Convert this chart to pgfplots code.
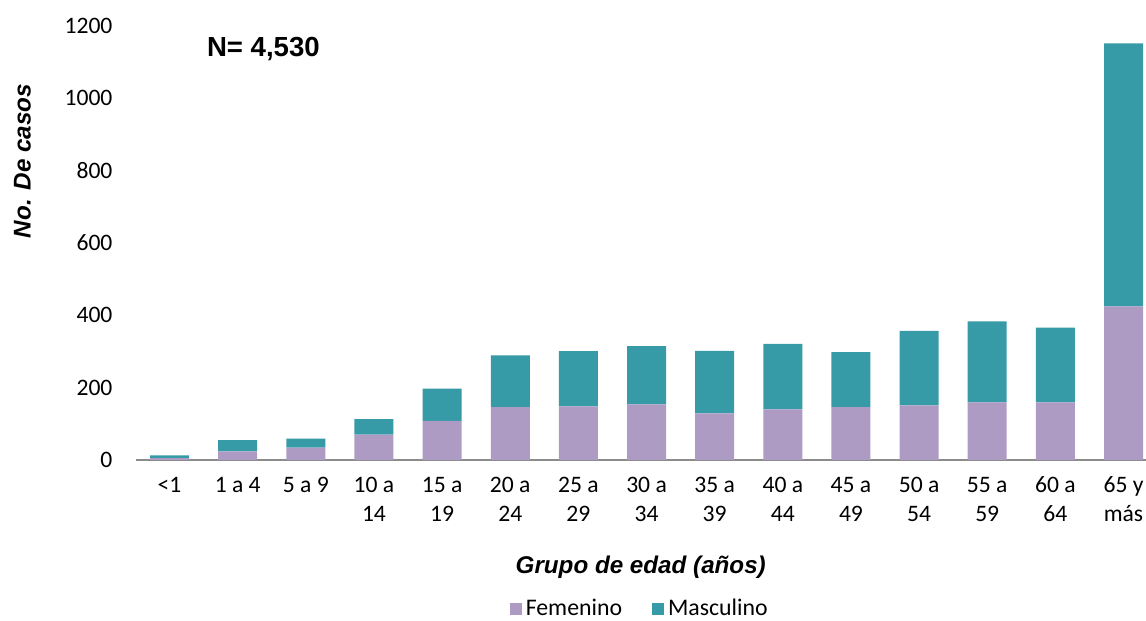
\documentclass[border=0pt]{standalone}
\usepackage{pgfplots}
\pgfplotsset{compat=1.18}
\usepackage{fontspec}
\setmainfont{Carlito}
\newfontfamily\arialfont{Liberation Sans}

\definecolor{femcol}{RGB}{173,155,195}
\definecolor{mascol}{RGB}{55,154,167}
\definecolor{axisgray}{RGB}{140,140,140}

\begin{document}
\begin{tikzpicture}
\begin{axis}[
    scale only axis,
    width=505.25pt, height=217pt,
    ybar stacked,
    bar width=19.5pt,
    xmin=-0.5, xmax=14.33,
    ymin=0, ymax=1200,
    ytick={0,200,...,1200},
    xtick=data,
    xticklabels={{<1},{1 a 4},{5 a 9},{10 a\\14},{15 a\\19},{20 a\\24},{25 a\\29},{30 a\\34},{35 a\\39},{40 a\\44},{45 a\\49},{50 a\\54},{55 a\\59},{60 a\\64},{65 y\\más}},
    x tick label style={align=center, font=\fontsize{11.8}{14.5}\selectfont, anchor=north, yshift=-5pt},
    y tick label style={font=\fontsize{11.8}{13}\selectfont, xshift=-8pt},
    /pgf/number format/assume math mode=true,
    /pgf/number format/1000 sep={},
    major tick length=0pt,
    axis lines*=left,
    y axis line style={draw=none},
    x axis line style={draw=axisgray, line width=1.1pt},
    clip mode=individual,
    legend columns=2,
    legend style={draw=none, at={(rel axis cs:0.5,-0.343)}, anchor=center,
        font=\fontsize{11.9}{13}\selectfont,
        /tikz/every even column/.append style={column sep=13pt}},
    legend image code/.code={\fill[#1] (0pt,-3pt) rectangle (6pt,3pt);},
]
\addplot[fill=femcol, draw=none] coordinates {
    (0,5) (1,24) (2,34) (3,70) (4,108) (5,146) (6,148) (7,154)
    (8,129) (9,140) (10,146) (11,151) (12,159) (13,159) (14,425)};
\addplot[fill=mascol, draw=none] coordinates {
    (0,8) (1,31) (2,25) (3,43) (4,89) (5,143) (6,153) (7,161)
    (8,173) (9,181) (10,152) (11,206) (12,224) (13,207) (14,727)};
\legend{Femenino, Masculino}

\node[anchor=base west, font=\arialfont\bfseries\fontsize{13.8}{16}\selectfont]
    at (rel axis cs:0.0638,0.9286) {N= 4,530};
\node[rotate=90, anchor=center, font=\arialfont\bfseries\itshape\fontsize{12.1}{14}\selectfont]
    at (rel axis cs:-0.112,0.689) {No. De casos};
\node[anchor=base, font=\arialfont\bfseries\itshape\fontsize{12.1}{14}\selectfont]
    at (rel axis cs:0.5,-0.262) {Grupo de edad (años)};

\coordinate (BBsw) at (rel axis cs:-0.1341,-0.371);
\coordinate (BBne) at (rel axis cs:1,1.0599);
\end{axis}
\pgfresetboundingbox
\path[use as bounding box] (BBsw) rectangle (BBne);
\end{tikzpicture}
\end{document}
